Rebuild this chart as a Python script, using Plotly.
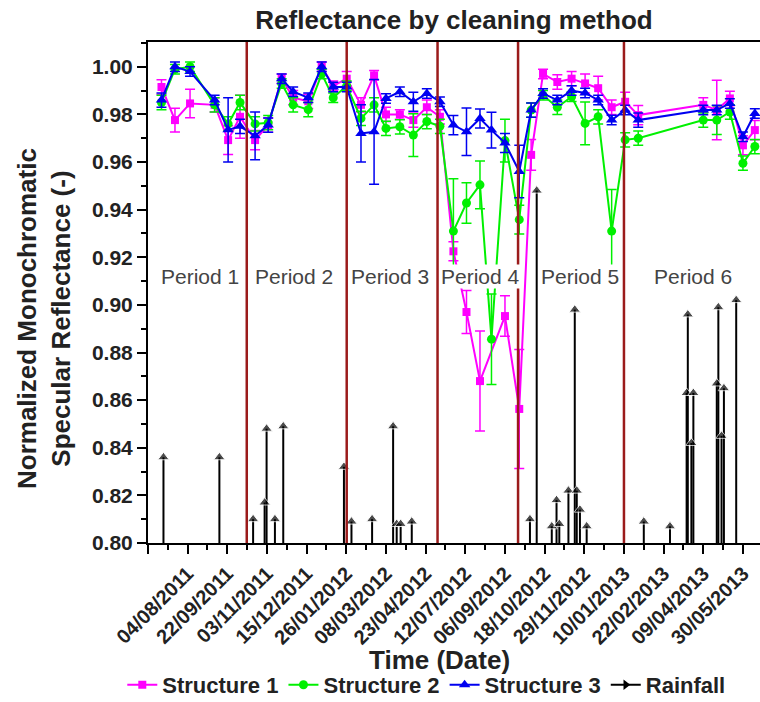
import plotly.graph_objects as go

# ---------------------------------------------------------------------------
# Data
# ---------------------------------------------------------------------------
title_text = "Reflectance by cleaning method"

# labelled dates on the time axis (one axis unit per label)
date_labels = ["04/08/2011", "22/09/2011", "03/11/2011", "15/12/2011", "26/01/2012",
               "08/03/2012", "23/04/2012", "12/07/2012", "06/09/2012", "18/10/2012",
               "29/11/2012", "10/01/2013", "22/02/2013", "09/04/2013", "30/05/2013"]
date_ticks = list(range(1, len(date_labels) + 1))

# measurement positions on the time axis
t = [0.34, 0.68, 1.06, 1.68, 2.02, 2.32,
     2.70, 3.03, 3.37, 3.66, 4.04, 4.38, 4.67, 5.01,
     5.37, 5.70, 6.00, 6.35, 6.69, 7.03,
     7.36, 7.70, 8.03, 8.37, 8.66, 9.00, 9.36,
     9.66, 9.96, 10.32, 10.68, 11.02, 11.35, 11.69, 12.03,
     12.36, 14.00, 14.34, 14.67, 15.00, 15.30]

structure1 = [0.9915, 0.9776, 0.9846, 0.9840, 0.9692, 0.9790,
              0.9692, 0.9755, 0.9950, 0.9870, 0.9855, 1.0000, 0.9920, 0.9950,
              0.9840, 0.9964, 0.9800, 0.9800, 0.9776, 0.9830,
              0.9790, 0.9225, 0.8970, 0.8680, None, 0.8953, 0.8563,
              0.9630, 0.9970, 0.9936, 0.9950, 0.9930, 0.9910, 0.9830, 0.9853,
              0.9797, 0.9840, 0.9818, 0.9867, 0.9670, 0.9734]
structure1_err = [0.003, 0.005, 0.006, 0.003, 0.006, 0.009,
                  0.004, 0.003, 0.002, 0.003, 0.003, 0.002, 0.002, 0.003,
                  0.003, 0.002, 0.003, 0.002, 0.003, 0.003,
                  0.003, 0.004, 0.009, 0.021, 0.0, 0.0085, 0.025,
                  0.0065, 0.002, 0.003, 0.003, 0.004, 0.005, 0.003, 0.004,
                  0.004, 0.003, 0.0125, 0.003, 0.004, 0.004]

structure2 = [0.9850, 0.9990, 1.0000, 0.9840, 0.9760, 0.9850,
              0.9760, 0.9765, 0.9930, 0.9840, 0.9820, 0.9970, 0.9870, 0.9920,
              0.9783, 0.9840, 0.9741, 0.9748, 0.9713, 0.9770,
              0.9750, 0.9310, 0.9428, 0.9504, 0.8856, 0.9690, 0.9358,
              0.9818, 0.9880, 0.9830, 0.9874, 0.9762, 0.9790, 0.9310, 0.9693,
              0.9700, 0.9776, 0.9776, 0.9810, 0.9595, 0.9665]
structure2_err = [0.003, 0.002, 0.002, 0.003, 0.003, 0.003,
                  0.003, 0.003, 0.002, 0.003, 0.003, 0.002, 0.002, 0.002,
                  0.003, 0.003, 0.003, 0.003, 0.009, 0.003,
                  0.003, 0.022, 0.0085, 0.010, 0.019, 0.009, 0.006,
                  0.003, 0.002, 0.003, 0.002, 0.009, 0.003, 0.0175, 0.003,
                  0.003, 0.003, 0.006, 0.003, 0.003, 0.003]

structure3 = [0.9860, 1.0000, 0.9980, 0.9860, 0.9735, 0.9750,
              0.9710, 0.9755, 0.9950, 0.9895, 0.9870, 1.0000, 0.9915, 0.9915,
              0.9720, 0.9727, 0.9867, 0.9895, 0.9853, 0.9888,
              0.9853, 0.9755, 0.9727, 0.9783, 0.9734, 0.9680, 0.9560,
              0.9818, 0.9888, 0.9860, 0.9900, 0.9890, 0.9860, 0.9776, 0.9818,
              0.9776, 0.9818, 0.9818, 0.9846, 0.9706, 0.9804]
structure3_err = [0.003, 0.002, 0.002, 0.002, 0.0135, 0.003,
                  0.010, 0.003, 0.002, 0.002, 0.002, 0.002, 0.002, 0.002,
                  0.012, 0.022, 0.002, 0.002, 0.004, 0.002,
                  0.002, 0.004, 0.010, 0.004, 0.0075, 0.004, 0.011,
                  0.003, 0.002, 0.002, 0.002, 0.002, 0.002, 0.002, 0.002,
                  0.003, 0.002, 0.002, 0.002, 0.002, 0.002]

# rainfall events: position on the time axis and arrow height (axis units)
rain_t = [0.39, 1.80, 2.65, 2.94, 2.99, 3.20, 3.41, 4.94, 5.13, 5.65, 6.18, 6.27, 6.37, 6.65,
          9.63, 9.80, 10.18, 10.30, 10.37, 10.60, 10.76, 10.81, 10.89, 11.06,
          12.50, 13.16, 13.58, 13.61, 13.70, 13.75, 14.34, 14.38, 14.46, 14.52, 14.83]
rain_h = [0.836, 0.836, 0.810, 0.817, 0.848, 0.810, 0.849, 0.832, 0.809, 0.810, 0.849, 0.808, 0.808, 0.809,
          0.810, 0.948, 0.807, 0.818, 0.808, 0.822, 0.898, 0.822, 0.814, 0.807,
          0.809, 0.807, 0.863, 0.896, 0.842, 0.863, 0.867, 0.899, 0.845, 0.865, 0.902]

# cleaning periods
period_bounds = [2.49, 5.01, 7.30, 9.33, 12.00]
period_names = ["Period 1", "Period 2", "Period 3", "Period 4", "Period 5", "Period 6"]
period_label_t = [1.31, 3.68, 6.10, 8.38, 10.88, 13.75]
period_label_y = 0.912

Y_MIN, Y_MAX = 0.80, 1.0104
X_MIN, X_MAX = 0.0, 15.43

FONT = "Liberation Sans, Arial, Helvetica, sans-serif"
C1, C2, C3 = "#FF00FF", "#00F000", "#0000F0"
PERIOD_COLOR = "#9B1B1B"

fig = go.Figure()


def add_structure(name, y, err, color, symbol, size):
    fig.add_trace(go.Scatter(
        x=t, y=y, name=name, mode="lines+markers", connectgaps=True,
        line=dict(color=color, width=2),
        marker=dict(color=color, symbol=symbol, size=size),
        error_y=dict(type="data", array=err, color=color, thickness=1.5, width=5),
    ))


add_structure("Structure 1", structure1, structure1_err, C1, "square", 8)
add_structure("Structure 2", structure2, structure2_err, C2, "circle", 9)
add_structure("Structure 3", structure3, structure3_err, C3, "triangle-up", 10)

# rainfall drawn as upward arrows from the axis floor
rx, ry, rs = [], [], []
for xv, hv in zip(rain_t, rain_h):
    rx += [xv, xv, None]
    ry += [Y_MIN, hv, None]
    rs += [0, 10, 0]
fig.add_trace(go.Scatter(
    x=rx, y=ry, mode="lines+markers", showlegend=False, name="Rainfall",
    line=dict(color="black", width=2),
    marker=dict(color="black", symbol="triangle-up", size=rs),
))
# legend entry for the rainfall arrows
fig.add_trace(go.Scatter(
    x=[None], y=[None], mode="lines+markers", name="Rainfall",
    line=dict(color="black", width=2),
    marker=dict(color="black", symbol="triangle-right", size=9),
))

for b in period_bounds:
    fig.add_shape(type="line", xref="x", yref="paper", x0=b, x1=b, y0=0, y1=1,
                  line=dict(color=PERIOD_COLOR, width=2.5), layer="above")

for name, xv in zip(period_names, period_label_t):
    fig.add_annotation(x=xv, y=period_label_y, xref="x", yref="y", text=name,
                       showarrow=False, bgcolor="white", borderpad=0,
                       font=dict(family=FONT, size=21, color="#444444"))

# axis titles
fig.add_annotation(x=-0.170, y=0.449, xref="paper", yref="paper",
                   xanchor="center", yanchor="middle",
                   text="Normalized Monochromatic<br>Specular Reflectance (-)",
                   textangle=-90, showarrow=False, align="center",
                   font=dict(family=FONT, size=26, color="#222222", weight="bold"))
fig.add_annotation(x=0.477, y=-0.2335, xref="paper", yref="paper",
                   xanchor="center", yanchor="middle",
                   text="Time (Date)", showarrow=False,
                   font=dict(family=FONT, size=26, color="#222222", weight="bold"))

fig.update_layout(
    width=760, height=702,
    margin=dict(l=148, r=0, t=42, b=159, autoexpand=False),
    paper_bgcolor="white", plot_bgcolor="white",
    title=dict(text=title_text, x=0.5, xref="paper", xanchor="center",
               y=1 - 20 / 702, yref="container", yanchor="middle",
               font=dict(family=FONT, size=26, color="#222222", weight="bold")),
    showlegend=True,
    legend=dict(orientation="h", x=-0.042, y=-0.2415, xanchor="left", yanchor="top",
                font=dict(family=FONT, size=22, color="#222222", weight="bold"),
                bgcolor="rgba(0,0,0,0)", itemwidth=30, tracegroupgap=0),
)

fig.update_xaxes(
    range=[X_MIN, X_MAX], showgrid=False, zeroline=False, automargin=False,
    showline=True, linecolor="black", linewidth=2, mirror=True,
    tickmode="array", tickvals=[0] + date_ticks, ticktext=[""] + date_labels,
    ticks="outside", ticklen=9, tickwidth=2, tickcolor="black", tickangle=-45,
    tickfont=dict(family=FONT, size=20, color="#222222", weight="bold"),
    minor=dict(tickmode="linear", tick0=0.5, dtick=1, ticks="outside",
               ticklen=5, tickwidth=1.5, tickcolor="black"),
)
fig.update_yaxes(
    range=[Y_MIN, Y_MAX], showgrid=False, zeroline=False, automargin=False,
    showline=True, linecolor="black", linewidth=2, mirror=False,
    tickmode="linear", tick0=0.80, dtick=0.02, tickformat=".2f",
    ticks="outside", ticklen=9, tickwidth=2, tickcolor="black",
    tickfont=dict(family=FONT, size=21, color="#222222", weight="bold"),
    minor=dict(tickmode="linear", tick0=0.80, dtick=0.01, ticks="outside",
               ticklen=5, tickwidth=1.5, tickcolor="black"),
)

fig.write_html("out.html")
